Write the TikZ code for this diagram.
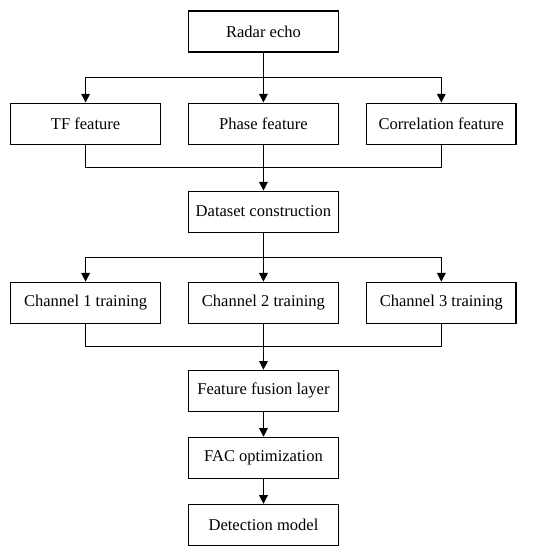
\documentclass[tikz,border=0pt]{standalone}
\usepackage{fontspec}
\setmainfont{Liberation Serif}
\usepackage{tikz}
\usetikzlibrary{arrows.meta,calc,positioning}

\begin{document}
\begin{tikzpicture}[
  node distance=34.5pt and 20.6pt,
  every node/.style={font=\fontsize{12.4}{14}\selectfont},
  block/.style={draw, line width=0.8pt, minimum width=112pt, minimum height=30.75pt, inner sep=2pt},
  arrow/.style={-{Triangle[length=6.5pt, width=6.5pt]}, line width=0.8pt},
  link/.style={line width=0.8pt}
]
\useasboundingbox (0,0) rectangle (412.5pt,-412.5pt);
\node[block] (radar) at (197.6pt,-23.6pt) {Radar echo};
\node[block, below=37.5pt of radar] (phase) {Phase feature};
\node[block, left=of phase] (tf) {TF feature};
\node[block, right=of phase] (corr) {Correlation feature};
\node[block, below=of phase] (dataset) {Dataset construction};
\node[block, below=36.75pt of dataset] (chan2) {Channel 2 training};
\node[block, left=of chan2] (chan1) {Channel 1 training};
\node[block, right=of chan2] (chan3) {Channel 3 training};
\node[block, below=of chan2] (fusion) {Feature fusion layer};
\node[block, below=18.75pt of fusion] (fac) {FAC optimization};
\node[block, below=18.75pt of fac] (detect) {Detection model};

% branch and merge points
\coordinate (split1) at ($(radar.south)!0.5!(phase.north)$);
\coordinate (merge1) at ($(phase.south)!0.5!(dataset.north)$);
\coordinate (split2) at ($(dataset.south)!0.5!(chan2.north)$);
\coordinate (merge2) at ($(chan2.south)!0.5!(fusion.north)$);

\draw[link] (radar) -- (split1);
\draw[arrow] (split1) -| (tf);
\draw[arrow] (split1) -- (phase);
\draw[arrow] (split1) -| (corr);
\draw[link] (tf) |- (merge1);
\draw[link] (corr) |- (merge1);
\draw[link] (phase) -- (merge1);
\draw[arrow] (merge1) -- (dataset);

\draw[link] (dataset) -- (split2);
\draw[arrow] (split2) -| (chan1);
\draw[arrow] (split2) -- (chan2);
\draw[arrow] (split2) -| (chan3);
\draw[link] (chan1) |- (merge2);
\draw[link] (chan3) |- (merge2);
\draw[link] (chan2) -- (merge2);
\draw[arrow] (merge2) -- (fusion);

\draw[arrow] (fusion) -- (fac);
\draw[arrow] (fac) -- (detect);
\end{tikzpicture}
\end{document}
